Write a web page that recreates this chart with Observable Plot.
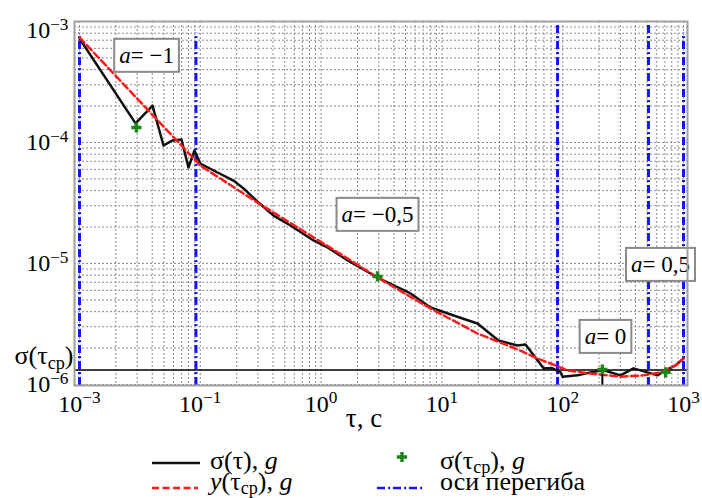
<!DOCTYPE html>
<html><head><meta charset="utf-8">
<script src="https://cdn.jsdelivr.net/npm/d3@7"></script>
<script src="https://cdn.jsdelivr.net/npm/@observablehq/plot@0.6"></script>
<style>
html,body{margin:0;padding:0;background:#fff;}
#chart{width:702px;}
svg{display:block;}
</style></head><body><div id="chart"></div>
<script>
const FONT = "'Liberation Serif', serif";

// σ(τ) measured curve
const tau = [0.01, 0.0291, 0.0402, 0.0496, 0.0589, 0.0698, 0.0798, 0.0895, 0.1, 0.139, 0.188, 0.228, 0.303, 0.404, 0.558, 0.865, 1.13, 1.66, 2.93, 5.50, 8.05, 12.5, 19.7, 29.4, 42.3, 49.2, 69.4, 82.4, 96, 99.6, 133, 170, 218, 301, 385, 503, 609, 711, 859, 1000];
const sigma = [7.24e-4, 1.44e-4, 2.02e-4, 9.45e-5, 1.04e-4, 1.06e-4, 6.21e-5, 8.59e-5, 6.70e-5, 5.65e-5, 4.85e-5, 4.17e-5, 3.19e-5, 2.49e-5, 2.06e-5, 1.55e-5, 1.36e-5, 1.06e-5, 7.66e-6, 5.65e-6, 4.33e-6, 3.72e-6, 3.19e-6, 2.31e-6, 2.10e-6, 2.14e-6, 1.36e-6, 1.36e-6, 1.26e-6, 1.16e-6, 1.19e-6, 1.26e-6, 1.31e-6, 1.19e-6, 1.36e-6, 1.26e-6, 1.19e-6, 1.31e-6, 1.44e-6, 1.64e-6];

// y(τcp) fitted curve
const fitTau = [0.01, 0.1, 0.297, 1.66, 2.93, 8.05, 19.7, 42.3, 61.8, 79.3, 110, 170, 301, 467, 645, 859, 1000];
const fitY = [7.38e-4, 6.45e-5, 3.19e-5, 1.10e-5, 7.66e-6, 4.25e-6, 2.64e-6, 1.95e-6, 1.64e-6, 1.49e-6, 1.31e-6, 1.23e-6, 1.16e-6, 1.19e-6, 1.26e-6, 1.44e-6, 1.64e-6];

// σ(τcp) points
const pointTau = [0.0296, 2.93, 213, 711];
const pointSigma = [1.33e-4, 7.81e-6, 1.33e-6, 1.26e-6];

const tauCp = 213;
const sigmaCp = 1.32e-6;

// inflection axes
const inflectionTau = [0.01, 0.092, 90.6, 513, 1000];
const inflectionTop = [8e-4, 8e-4, 1e-3, 1e-3, 8e-4];

// ticks
const xTickValues = [0.01, 0.1, 1, 10, 100, 213, 1000];
const xTickLabels = ["10^{−3}", "10^{−1}", "10^{0}", "10^{1}", "10^{2}", "τ_{ср}", "10^{3}"];
const yTickValues = [1e-3, 1e-4, 1e-5, 1e-6];
const yTickLabels = ["10^{−3}", "10^{−4}", "10^{−5}", "10^{−6}"];

// slope annotations
const slopeLabels = ["*a*= −1", "*a*= −0,5", "*a*= 0", "*a*= 0,5"];
const slopeTau = [0.0359, 2.93, 226, 645];
const slopeSigma = [5.24e-4, 2.54e-5, 2.49e-6, 9.8e-6];

const legendLabels = ["σ(τ), *g*", "*y*(τ_{ср}), *g*", "σ(τ_{ср}), *g*", "оси перегиба"];

// ---------- build ----------
const series = tau.map((t, i) => ({tau: t, sigma: sigma[i]}));
const fit = fitTau.map((t, i) => ({tau: t, y: fitY[i]}));
const points = pointTau.map((t, i) => ({tau: t, sigma: pointSigma[i]}));
const inflections = inflectionTau.map((t, i) => ({tau: t, top: inflectionTop[i]}));
const slopes = slopeLabels.map((s, i) => ({label: s, tau: slopeTau[i], sigma: slopeSigma[i]}));
const xLabel = new Map(xTickValues.map((v, i) => [v, xTickLabels[i]]));
const yLabel = new Map(yTickValues.map((v, i) => [v, yTickLabels[i]]));

const xDomain = [0.00909, 1079];
const yDomain = [0.981e-6, 1e-3];
const xGrid = d3.scaleLog().domain(xDomain).ticks(20).filter(v => v >= 0.01 && v <= 1000);
const yGrid = d3.scaleLog().domain(yDomain).ticks(20).filter(v => v >= 1e-6 && v <= 1e-3);

const gridStyle = {stroke: "#8c8c8c", strokeOpacity: 1, strokeWidth: 1, strokeDasharray: "2,2"};

const chart = Plot.plot({
  width: 702, height: 450,
  marginLeft: 74, marginRight: 15, marginTop: 21, marginBottom: 65,
  style: {fontFamily: FONT, fontSize: "24px", background: "#fff", color: "#000"},
  x: {type: "log", domain: xDomain, label: null},
  y: {type: "log", domain: yDomain, label: null},
  marks: [
    Plot.gridX(xGrid, gridStyle),
    Plot.gridY(yGrid, gridStyle),
    Plot.ruleY([sigmaCp], {stroke: "#000", strokeWidth: 1.5}),
    Plot.ruleX(inflections, {x: "tau", y1: yDomain[0], y2: "top", stroke: "#1414ff", strokeWidth: 3, strokeDasharray: "8,3,2,3"}),
    Plot.line(series, {x: "tau", y: "sigma", stroke: "#111", strokeWidth: 2.5}),
    Plot.line(fit, {x: "tau", y: "y", stroke: "#ff1a1a", strokeWidth: 2.5, strokeDasharray: "7,3.5"}),
    Plot.ruleX([tauCp], {y1: yDomain[0], y2: sigmaCp, stroke: "#000", strokeWidth: 2}),
    Plot.dot(points, {x: "tau", y: "sigma", symbol: "cross", r: 4.3, fill: "#1a851a", stroke: null}),
    Plot.text(slopes, {x: "tau", y: "sigma", text: "label", fill: "#000", fontSize: 23}),
    Plot.frame({stroke: "#a0a0a0", strokeWidth: 2}),
    Plot.axisX(xTickValues, {tickFormat: d => xLabel.get(d), tickSize: 0, tickPadding: 9, label: null, fontSize: 24}),
    Plot.axisY(yTickValues.slice(1), {tickFormat: d => yLabel.get(d), tickSize: 0, tickPadding: 6, label: null, fontSize: 24}),
    Plot.axisY(yTickValues.slice(0, 1), {tickFormat: d => yLabel.get(d), tickSize: 0, tickPadding: 6, label: null, fontSize: 24, dy: 9}),
    Plot.text([sigmaCp], {y: d => d, text: () => "σ(τ_{ср})", frameAnchor: "left", textAnchor: "end", dx: -1, dy: -14, fontSize: 26}),
    Plot.text(["τ, с"], {frameAnchor: "bottom", dy: 41, dx: -17, fontSize: 27})
  ]
});
document.getElementById("chart").appendChild(chart);

// ---------- legend ----------
const leg = d3.create("svg").attr("width", 702).attr("height", 48)
  .style("font-family", FONT).style("font-size", "26px").style("overflow", "visible");
leg.append("line").attr("x1", 152).attr("x2", 200).attr("y1", 13).attr("y2", 13)
  .attr("stroke", "#111").attr("stroke-width", 2.5);
leg.append("line").attr("x1", 152).attr("x2", 198).attr("y1", 38).attr("y2", 38)
  .attr("stroke", "#ff1a1a").attr("stroke-width", 2.5).attr("stroke-dasharray", "7,3.5");
leg.append("path").attr("d", d3.symbol(d3.symbolCross, 58)()).attr("transform", "translate(402,7)").attr("fill", "#1a851a");
leg.append("line").attr("x1", 377).attr("x2", 425).attr("y1", 38).attr("y2", 38)
  .attr("stroke", "#1414ff").attr("stroke-width", 2.5).attr("stroke-dasharray", "8,3,2,3");
const legPos = [[210, 19], [210, 40], [440, 19], [440, 40]];
legendLabels.forEach((s, i) => {
  leg.append("text").attr("class", "legend-text").attr("x", legPos[i][0]).attr("y", legPos[i][1]).attr("fill", "#000").text(s);
});
document.getElementById("chart").appendChild(leg.node());

// ---------- rich text: ^{sup}, _{sub}, *italic* ----------
const NS = "http://www.w3.org/2000/svg";
function richify(el, subShift) {
  const s = el.textContent;
  if (!/[\^_*]/.test(s)) return;
  const fs = parseFloat(getComputedStyle(el).fontSize) || 24;
  el.textContent = "";
  let italic = false, shift = 0, buf = "", i = 0;
  function add(str, mode) {
    if (!str) return;
    const t = document.createElementNS(NS, "tspan");
    t.textContent = str;
    let target = 0;
    if (mode === "sup") { target = -0.35 * fs; t.setAttribute("font-size", (0.72 * fs) + "px"); }
    else if (mode === "sub") { target = subShift * fs; t.setAttribute("font-size", (0.7 * fs) + "px"); }
    const dy = target - shift;
    if (dy) t.setAttribute("dy", dy);
    shift = target;
    if (italic) t.setAttribute("font-style", "italic");
    el.appendChild(t);
  }
  while (i < s.length) {
    const c = s[i];
    if ((c === "^" || c === "_") && s[i + 1] === "{") {
      add(buf, "normal"); buf = "";
      const j = s.indexOf("}", i);
      add(s.slice(i + 2, j), c === "^" ? "sup" : "sub");
      i = j + 1;
    } else if (c === "*") {
      add(buf, "normal"); buf = ""; italic = !italic; i++;
    } else { buf += c; i++; }
  }
  add(buf, "normal");
}
document.querySelectorAll("#chart svg text").forEach(el =>
  richify(el, el.classList.contains("legend-text") ? 0.15 : 0.2));

// boxes behind slope annotations
document.querySelectorAll("#chart svg text").forEach(el => {
  if (!el.textContent.startsWith("a=")) return;
  const bb = el.getBBox();
  const r = document.createElementNS(NS, "rect");
  r.setAttribute("x", bb.x - 5);
  r.setAttribute("y", bb.y - 4);
  r.setAttribute("width", bb.width + 10);
  r.setAttribute("height", bb.height + 8);
  r.setAttribute("fill", "#fff");
  r.setAttribute("stroke", "#8a8a8a");
  r.setAttribute("stroke-width", 2);
  const tr = el.getAttribute("transform");
  if (tr) r.setAttribute("transform", tr);
  el.parentNode.insertBefore(r, el);
});
</script>
</body></html>
